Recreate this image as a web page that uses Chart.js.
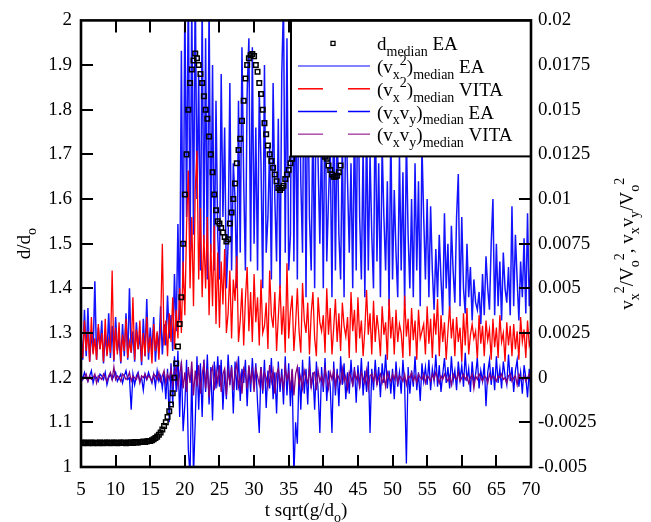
<!DOCTYPE html>
<html>
<head>
<meta charset="utf-8">
<script src="https://cdn.jsdelivr.net/npm/chart.js@4.4.1/dist/chart.umd.min.js"></script>
<style>
  html, body { margin: 0; padding: 0; background: #fff; }
  #wrap { width: 651px; height: 522px; }
</style>
</head>
<body>
<div id="wrap"><canvas id="chart" width="651" height="522"></canvas></div>
<script>
// time axis sampling: t = 5, 5.25, 5.5 ...
const tStart = 5;
const tStep = 0.25;

// d_median / d_o (left axis), EA
const dMedianEA = [
  1.054, 1.053, 1.055, 1.054, 1.053, 1.054, 1.055, 1.053, 1.054, 1.054, 1.053, 1.055, 1.054, 1.053, 1.054, 1.055, 1.054, 1.053, 1.054, 1.055,
  1.054, 1.053, 1.054, 1.055, 1.054, 1.054, 1.053, 1.055, 1.054, 1.055, 1.054, 1.056, 1.055, 1.055, 1.056, 1.056, 1.057, 1.056, 1.057, 1.058,
  1.058, 1.060, 1.062, 1.065, 1.068, 1.072, 1.077, 1.084, 1.092, 1.100, 1.112, 1.125, 1.140, 1.165, 1.200, 1.232, 1.270, 1.320, 1.380, 1.500,
  1.610, 1.700, 1.800, 1.860, 1.890, 1.910, 1.926, 1.915, 1.900, 1.880, 1.860, 1.830, 1.800, 1.780, 1.740, 1.700, 1.660, 1.610, 1.575, 1.550,
  1.545, 1.535, 1.525, 1.515, 1.505, 1.510, 1.545, 1.570, 1.600, 1.635, 1.680, 1.710, 1.735, 1.775, 1.820, 1.870, 1.900, 1.915, 1.922, 1.925,
  1.920, 1.900, 1.885, 1.860, 1.835, 1.800, 1.770, 1.745, 1.720, 1.700, 1.685, 1.670, 1.655, 1.640, 1.625, 1.620, 1.625, 1.630, 1.645, 1.655,
  1.665, 1.680, 1.690, 1.710, 1.730, 1.750, 1.770, 1.790, 1.800, 1.810, 1.815, 1.815, 1.810, 1.800, 1.790, 1.775, 1.760, 1.745, 1.730, 1.715,
  1.705, 1.695, 1.690, 1.675, 1.665, 1.655, 1.650, 1.650, 1.652, 1.660, 1.675
];

// right axis series, in units of 1e-3 (V_o^2)
const vx2EA = [
  2.4, 1.0, 3.8, 1.2, 3.9, 0.9, 2.6, 1.4, 5.4, 1.0, 2.8, 1.6, 3.2, 0.8, 2.5, 1.3, 3.6, 1.1, 2.9, 0.9,
  3.4, 1.5, 2.2, 0.8, 3.0, 1.2, 3.6, 1.0, 5.0, 1.4, 2.6, 0.9, 3.1, 1.6, 2.4, 0.7, 3.3, 1.2, 4.4, 1.0,
  2.8, 1.4, 3.4, 0.9, 2.5, 1.6, 4.0, 1.3, 3.0, 1.8, 4.6, 2.2, 3.5, 1.5, 5.8, 2.6, 8.6, 3.2, 18.3, 5.0,
  21, 9, 22, 7, 21, 8, 22, 10, 17, 6, 21, 7.5, 19, 5.5, 21, 7, 17.5, 6, 15.5, 8,
  5.5, 17, 9, 14, 5, 7.5, 16.5, 6, 12, 10, 5, 15.5, 7, 18.5, 11, 6, 16, 19, 6.5, 18.5,
  7.5, 14, 6, 16, 12, 5, 17.5, 7, 9, 13, 5.5, 16.5, 10, 6.5, 14.5, 5, 17, 21, 7, 19,
  6, 8, 22, 6.5, 17, 5.5, 20, 11, 7, 21, 4.5, 18, 9, 6, 15, 5, 19, 12, 7.5, 14,
  5, 17, 6.5, 10, 13, 4.5, 16, 6, 15, 8, 5.5, 13.5, 4.5, 16, 11, 7, 12, 5, 15, 6,
  18, 9, 5.5, 13, 4.5, 14.5, 6, 12.5, 8, 5, 16, 6.5, 12, 4.5, 13, 9, 6, 11, 4, 14,
  5.5, 10.5, 7, 4.5, 12.5, 6, 11.5, 4, 13.5, 8, 5, 10, 4.5, 12, 6, 11, 4, 13, 9, 5.5,
  10, 4.5, 9.6, 6, 3.8, 7.2, 4.5, 8, 5.5, 3.5, 9.2, 5, 7.5, 3.6, 8.5, 6, 4.2, 9, 11.4, 4,
  9, 5, 3.6, 7.5, 4.5, 6.2, 3.2, 5.5, 4.2, 3.8, 4.8, 3, 5.8, 3.5, 6.8, 5, 3.8, 7.5, 10, 3.5,
  7.5, 4, 6.5, 3.2, 7, 5, 4.2, 6.2, 3.5, 9.6, 4, 8, 5.5, 3.2, 6.5, 4.5, 7.8, 3.6, 9.2, 4,
  6.5
];

const vx2VITA = [
  2.0, 1.1, 3.2, 1.5, 2.6, 0.9, 3.4, 1.3, 2.2, 1.0, 3.0, 1.6, 2.5, 0.9, 3.3, 1.2, 2.1, 1.4, 6.0, 1.0,
  2.8, 1.3, 3.1, 0.9, 2.4, 1.5, 3.3, 1.1, 2.0, 1.4, 4.5, 1.0, 2.7, 1.6, 3.2, 0.9, 2.5, 1.2, 3.4, 1.4,
  2.3, 0.8, 3.0, 1.5, 2.6, 1.0, 2.9, 7.5, 1.8, 3.2, 1.2, 3.6, 2.0, 4.5, 1.6, 3.8, 2.2, 5.0, 2.5, 6.5,
  3.5, 8.5, 11.6, 5, 9, 4, 10.5, 12.7, 5.5, 9.5, 4.5, 8, 5, 9, 3.5, 7.5, 4, 8.5, 3, 7,
  2.8, 6.5, 4.1, 7.2, 2.5, 3.6, 6, 2.2, 5.5, 4.3, 6.8, 2.0, 3.2, 5, 1.8, 4.4, 6.2, 2.6, 4.8, 2,
  5.8, 3.1, 4.5, 1.8, 5.5, 2.5, 2.9, 4.2, 1.6, 6, 3.5, 2.8, 4.8, 1.5, 3.4, 5.2, 2.4, 4, 1.4, 6.4,
  2.2, 3.7, 4.6, 1.5, 3.0, 5, 2.6, 1.4, 5.3, 3.2, 2.5, 4.2, 1.3, 3.6, 4.8, 2.2, 1.2, 4.5, 3.1, 2.6,
  3.5, 1.4, 5, 2.4, 3.9, 1.3, 2.8, 4.4, 2.0, 3.6, 1.5, 4.2, 2.9, 2.3, 3.4, 1.1, 4.8, 2.6, 3.8, 1.4,
  4.5, 2.2, 3.2, 1.2, 2.7, 4.9, 2.4, 3.6, 1.3, 4.3, 2.0, 3.5, 2.6, 1.2, 4.0, 2.4, 3.1, 1.0, 4.4, 2.2,
  3.4, 1.3, 3.8, 2.0, 3.0, 2.5, 1.1, 4.6, 2.3, 3.3, 1.2, 3.9, 2.1, 3.2, 1.0, 3.8, 2.2, 2.6, 3.0, 1.3,
  4.0, 1.9, 3.3, 1.1, 3.6, 2.4, 4.4, 1.2, 3.5, 2.0, 3.1, 1.0, 2.6, 4.0, 2.2, 3.3, 1.2, 3.4, 2.0, 2.8,
  0.9, 3.6, 1.8, 3.9, 1.3, 2.4, 3.0, 2.2, 2.6, 1.0, 3.5, 1.9, 2.9, 1.2, 3.2, 2.1, 2.7, 1.0, 3.3, 1.7,
  2.8, 1.1, 3.5, 2.0, 2.5, 0.9, 3.1, 1.8, 2.9, 1.2, 3.0, 1.6, 2.6, 1.0, 3.4, 2.0, 2.7, 1.1, 3.2, 1.8,
  2.2
];

const vxvyEA = [
  0.2, -0.1, 0.3, 0.0, -0.2, 0.1, 0.4, -0.3, 0.1, 0.0, -0.2, 0.2, 0.1, -0.1, 0.3, -0.4, 0.0, 0.2, -0.1, 0.1,
  0.3, -0.2, 0.0, 0.2, -0.3, 0.1, 0.4, -0.1, 0.0, -1.8, 0.2, -0.4, 0.1, 0.3, -0.2, 0.0, -0.7, 0.2, -0.1, 0.3,
  0.0, -0.3, 0.2, -0.5, 0.4, -0.2, 0.1, -0.6, 0.3, -1.2, 0.5, -2.5, 0.8, -1.5, 1.2, -0.8, 1.5, -2.2, 0.9, -3.0,
  -1.5, 1.0, -4, -5.5, 0.5, -5.5, -2.5, 1.2, -1.8, 0.8, -2.2, 1.0, -0.8, 1.3, -1.5, 0.6, -2.4, 0.9, -0.6, 1.2,
  -0.5, 1.0, -1.8, 0.4, -1.2, 1.3, -0.4, 0.7, -2.0, 0.9, -0.7, 1.2, -1.3, 0.5, -0.3, 1.0, -1.6, 0.6, -0.8, 1.1,
  -0.5, 0.8, -1.4, -3.1, 0.6, -0.9, 1.0, -1.7, 0.4, -0.6, 1.1, -1.2, 0.3, -2.0, 0.9, -0.8, 0.5, -1.5, 1.2, -1.0,
  0.8, -1.6, 0.4, -5.5, -2.5, -3.7, 0.6, -1.8, 1.0, -0.9, 0.5, -1.5, 1.2, -0.6, 0.3, -1.8, 0.9, -0.7, -3.1, 0.6,
  -0.8, 1.1, -1.3, 0.4, -0.5, -3.1, 0.9, -1.0, 0.5, -1.6, 1.2, -0.4, 0.8, -1.2, 0.3, -0.9, 1.0, -0.5, 0.6, -1.4,
  0.7, -0.6, 1.1, -1.0, 0.4, -0.8, 0.9, -3.1, 0.5, -0.7, 1.0, -0.4, 0.6, -1.1, 0.8, -0.3, 1.3, -0.6, 0.4, -0.9,
  0.5, -1.2, 0.9, -0.5, 0.3, -0.9, 1.0, -0.4, -4.8, 0.6, -0.9, 0.4, -0.5, 1.2, -0.7, 0.3, -1.3, 0.8, -0.2, 0.6,
  -0.4, 1.0, -0.7, 0.5, -0.2, 1.3, -0.5, 0.7, -0.8, 0.2, 1.1, -0.3, 0.6, -0.6, 1.2, -0.2, 0.4, -0.7, 0.9, -0.1,
  0.7, -0.5, 1.4, -0.2, 0.5, -0.8, 0.9, -0.3, 0.2, 1.1, -0.6, 0.4, -0.2, 0.8, -1.6, 0.3, 1.0, -0.4, 0.6, -0.7,
  1.2, -0.3, 0.5, -0.6, 0.9, 0.1, -0.4, 1.3, -0.2, 0.6, -0.8, 0.4, 1.0, -0.5, 0.3, -0.9, 0.7, 0.0, -1.1, 0.5,
  -1.3
];

const vxvyVITA = [
  0.1, -0.1, 0.0, 0.2, -0.2, 0.1, -0.1, 0.0, 0.2, -0.3, 0.1, 0.0, -0.1, 0.2, 0.0, -0.2, 0.1, 0.3, -0.1, 0.6,
  -0.1, 0.1, 0.0, -0.2, 0.2, 0.1, -0.1, 0.0, 0.3, -0.2, 0.1, 0.0, -0.1, 0.2, -0.3, 0.1, 0.0, 0.2, -0.1, 0.1,
  0.0, -0.2, 0.2, 0.1, -0.1, 0.3, -0.2, 0.1, 0.4, -0.3, 0.2, -0.1, 0.5, -0.4, 0.3, 0.6, -0.5, 0.2, 0.8, -0.6,
  0.3, -0.8, 0.6, -0.3, 0.9, -1.0, 0.4, -0.5, 0.7, -0.9, 0.2, 0.8, -0.6, 0.5, -1.1, 0.3, 0.6, -0.7, 0.4, -0.3,
  0.7, -0.8, 0.2, 0.5, -1.0, 0.4, -0.3, 0.6, -0.7, 0.3, 0.8, -0.5, 0.1, -0.9, 0.5, 0.2, -0.6, 0.7, -0.2, 0.4,
  -0.8, 0.5, 0.1, -0.4, 0.6, -0.7, 0.3, 0.0, -0.5, 0.7, -0.2, 0.4, -0.9, 0.2, 0.5, -0.3, 0.1, -0.6, 0.6, -0.1,
  0.3, -0.7, 0.5, -1.0, 0.2, 0.6, -0.4, 0.1, -0.6, 0.4, 0.0, -0.3, 0.5, -0.5, 0.2, 0.3, -0.7, 0.4, -0.2, 0.1,
  -0.4, 0.5, 0.0, -0.6, 0.3, -0.1, 0.4, -0.5, 0.2, 0.0, -0.3, 0.5, -0.2, 0.1, -0.6, 0.3, 0.0, -0.4, 0.4, -0.1,
  0.2, -0.5, 0.3, 0.0, -0.3, 0.4, -0.6, 0.1, 0.2, -0.2, 0.3, -0.4, 0.0, 0.2, -0.3, 0.1, -0.5, 0.3, 0.0, -0.2,
  0.2, -0.1, 0.3, -0.3, 0.1, 0.0, -0.2, 0.2, -0.4, 0.1, 0.0, 0.3, -0.2, 0.1, -0.3, 0.2, 0.0, -0.1, 0.2, -0.3,
  0.1, 0.0, -0.2, 0.2, -0.1, 0.3, 0.0, -0.3, 0.1, -0.1, 0.2, 0.0, -0.2, 0.1, -0.4, 0.2, 0.0, -0.1, 0.3, -0.2,
  0.0, 0.2, -0.1, 0.1, -0.3, 0.0, 0.2, -0.6, 0.1, -0.1, 0.2, 0.0, -0.2, 0.1, 0.0, -0.3, 0.2, -0.1, 0.1, 0.0,
  -0.2, 0.1, 0.0, 0.2, -0.1, 0.0, -0.3, 0.1, 0.2, -0.2, 0.0, 0.1, -0.4, 0.2, 0.0, -0.1, 0.1, -0.2, 0.0, 0.2,
  -0.1
];

// tick labels
const tTicks = [5, 10, 15, 20, 25, 30, 35, 40, 45, 50, 55, 60, 65, 70];
const dTicks = [1, 1.1, 1.2, 1.3, 1.4, 1.5, 1.6, 1.7, 1.8, 1.9, 2];
const vTicks = [-0.005, -0.0025, 0, 0.0025, 0.005, 0.0075, 0.01, 0.0125, 0.015, 0.0175, 0.02];

const FONT = '"Liberation Serif", "DejaVu Serif", serif';
const milli = 0.001;

const toPoints = (arr, k) => arr.map((v, i) => ({ x: tStart + i * tStep, y: v * k }));

const series = [
  { label: 'vx2EA', data: toPoints(vx2EA, milli), color: 'rgb(20,20,255)', width: 1.5, order: 5 },
  { label: 'vx2VITA', data: toPoints(vx2VITA, milli), color: 'rgb(255,0,0)', width: 1.3, order: 4 },
  { label: 'vxvyEA', data: toPoints(vxvyEA, milli), color: 'rgb(0,0,255)', width: 1.3, order: 3 },
  { label: 'vxvyVITA', data: toPoints(vxvyVITA, milli), color: 'rgb(128,0,128)', width: 1.3, order: 2 }
];

// legend rows: [style, text parts]
const legendRows = [
  { kind: 'point', parts: [['d'], ['median', 'sub'], [' EA']] },
  { kind: 'line', color: 'rgb(90,90,255)', dash: [], parts: [['(v'], ['x', 'sub'], ['2', 'sup'], [')'], ['median', 'sub'], [' EA']] },
  { kind: 'line', color: 'rgb(255,0,0)', dash: [25, 25], parts: [['(v'], ['x', 'sub'], ['2', 'sup'], [')'], ['median', 'sub'], [' VITA']] },
  { kind: 'line', color: 'rgb(0,0,255)', dash: [39, 11], parts: [['(v'], ['x', 'sub'], ['v'], ['y', 'sub'], [')'], ['median', 'sub'], [' EA']] },
  { kind: 'line', color: 'rgb(170,80,170)', dash: [25, 25], parts: [['(v'], ['x', 'sub'], ['v'], ['y', 'sub'], [')'], ['median', 'sub'], [' VITA']] }
];

function drawRich(ctx, parts, x, y, size, align) {
  const small = Math.round(size * 0.72);
  let total = 0;
  parts.forEach(([t, k]) => {
    ctx.font = (k ? small : size) + 'px ' + FONT;
    total += ctx.measureText(t).width;
  });
  let cx = align === 'center' ? x - total / 2 : x;
  parts.forEach(([t, k]) => {
    ctx.font = (k ? small : size) + 'px ' + FONT;
    const dy = k === 'sub' ? size * 0.3 : k === 'sup' ? -size * 0.45 : 0;
    ctx.fillText(t, cx, y + dy);
    cx += ctx.measureText(t).width;
  });
}

const decorations = {
  id: 'decorations',
  afterDatasetsDraw(chart) {
    const { ctx, chartArea: a, scales } = chart;
    ctx.save();
    ctx.strokeStyle = '#000';
    ctx.lineWidth = 2;
    const tl = 12;
    // inward tick marks on all four sides
    tTicks.slice(1, -1).forEach(v => {
      const px = Math.round(scales.x.getPixelForValue(v));
      ctx.beginPath();
      ctx.moveTo(px, a.bottom); ctx.lineTo(px, a.bottom - tl);
      ctx.moveTo(px, a.top); ctx.lineTo(px, a.top + tl);
      ctx.stroke();
    });
    dTicks.slice(1, -1).forEach(v => {
      const py = Math.round(scales.y.getPixelForValue(v));
      ctx.beginPath();
      ctx.moveTo(a.left, py); ctx.lineTo(a.left + tl, py);
      ctx.stroke();
    });
    vTicks.slice(1, -1).forEach(v => {
      const py = Math.round(scales.y2.getPixelForValue(v));
      ctx.beginPath();
      ctx.moveTo(a.right, py); ctx.lineTo(a.right - tl, py);
      ctx.stroke();
    });

    // legend box
    const bw = 240, bh = 136;
    const bx = a.right - bw, by = a.top;
    ctx.fillStyle = '#fff';
    ctx.fillRect(bx, by, bw, bh);
    ctx.lineWidth = 2;
    ctx.strokeRect(bx, by, bw, bh);
    ctx.textBaseline = 'alphabetic';
    legendRows.forEach((row, i) => {
      const ly = by + 23 + i * 22.7;
      if (row.kind === 'point') {
        ctx.lineWidth = 1.3;
        ctx.strokeStyle = '#000';
        ctx.strokeRect(bx + 40, ly - 2, 4, 4);
      } else {
        ctx.lineWidth = 1.5;
        ctx.strokeStyle = row.color;
        ctx.setLineDash(row.dash);
        ctx.beginPath();
        ctx.moveTo(bx + 7, ly); ctx.lineTo(bx + 79, ly);
        ctx.stroke();
        ctx.setLineDash([]);
      }
      ctx.fillStyle = '#000';
      drawRich(ctx, row.parts, bx + 86, ly + 7, 19);
    });

    // frame
    ctx.strokeStyle = '#000';
    ctx.lineWidth = 2.6;
    ctx.strokeRect(a.left, a.top, a.right - a.left, a.bottom - a.top);
    ctx.restore();
  },
  afterDraw(chart) {
    const { ctx, chartArea: a } = chart;
    ctx.save();
    ctx.fillStyle = '#000';
    ctx.textBaseline = 'alphabetic';
    // x title
    drawRich(ctx, [['t sqrt(g/d'], ['o', 'sub'], [')']], (a.left + a.right) / 2, 516, 19, 'center');
    // left title
    ctx.save();
    ctx.translate(30, (a.top + a.bottom) / 2);
    ctx.rotate(-Math.PI / 2);
    drawRich(ctx, [['d/d'], ['o', 'sub']], 0, 0, 19, 'center');
    ctx.restore();
    // right title
    ctx.save();
    ctx.translate(633, (a.top + a.bottom) / 2);
    ctx.rotate(-Math.PI / 2);
    drawRich(ctx, [['v'], ['x', 'sub'], ['2', 'sup'], ['/V'], ['o', 'sub'], ['2', 'sup'], [', v'], ['x', 'sub'], ['v'], ['y', 'sub'], ['/V'], ['o', 'sub'], ['2', 'sup']], 0, 0, 19, 'center');
    ctx.restore();
    ctx.restore();
  }
};

const tickFont = { family: FONT, size: 19 };

new Chart(document.getElementById('chart').getContext('2d'), {
  type: 'line',
  data: {
    datasets: [
      {
        label: 'dMedianEA',
        data: toPoints(dMedianEA, 1),
        yAxisID: 'y',
        showLine: false,
        pointStyle: 'rect',
        pointRadius: 3.2,
        pointBorderWidth: 1.5,
        pointBorderColor: '#000',
        pointBackgroundColor: 'rgba(255,255,255,0)',
        order: 1,
        clip: 0
      },
      ...series.map(s => ({
        label: s.label,
        data: s.data,
        yAxisID: 'y2',
        borderColor: s.color,
        borderWidth: s.width,
        pointRadius: 0,
        tension: 0,
        fill: false,
        order: s.order,
        clip: 0
      }))
    ]
  },
  options: {
    responsive: false,
    devicePixelRatio: 1,
    animation: false,
    events: [],
    layout: { padding: { top: 19, left: 0, right: 0, bottom: 0 } },
    plugins: { legend: { display: false }, tooltip: { enabled: false }, title: { display: false } },
    scales: {
      x: {
        type: 'linear', min: 5, max: 70,
        afterBuildTicks: s => { s.ticks = tTicks.map(v => ({ value: v })); },
        afterFit: s => { s.height = 55; },
        grid: { display: false, drawTicks: false },
        border: { display: false },
        ticks: { font: tickFont, color: '#000', padding: 12, maxRotation: 0, autoSkip: false, callback: v => String(v) }
      },
      y: {
        type: 'linear', position: 'left', min: 1, max: 2,
        afterBuildTicks: s => { s.ticks = dTicks.map(v => ({ value: v })); },
        afterFit: s => { s.width = 81; },
        grid: { display: false, drawTicks: false },
        border: { display: false },
        ticks: { font: tickFont, color: '#000', padding: 9, autoSkip: false, callback: v => String(v) }
      },
      y2: {
        type: 'linear', position: 'right', min: -0.005, max: 0.02,
        afterBuildTicks: s => { s.ticks = vTicks.map(v => ({ value: v })); },
        afterFit: s => { s.width = 120; },
        grid: { display: false, drawTicks: false },
        border: { display: false },
        ticks: { font: tickFont, color: '#000', padding: 7, autoSkip: false, callback: v => String(v) }
      }
    }
  },
  plugins: [decorations]
});
</script>
</body>
</html>
